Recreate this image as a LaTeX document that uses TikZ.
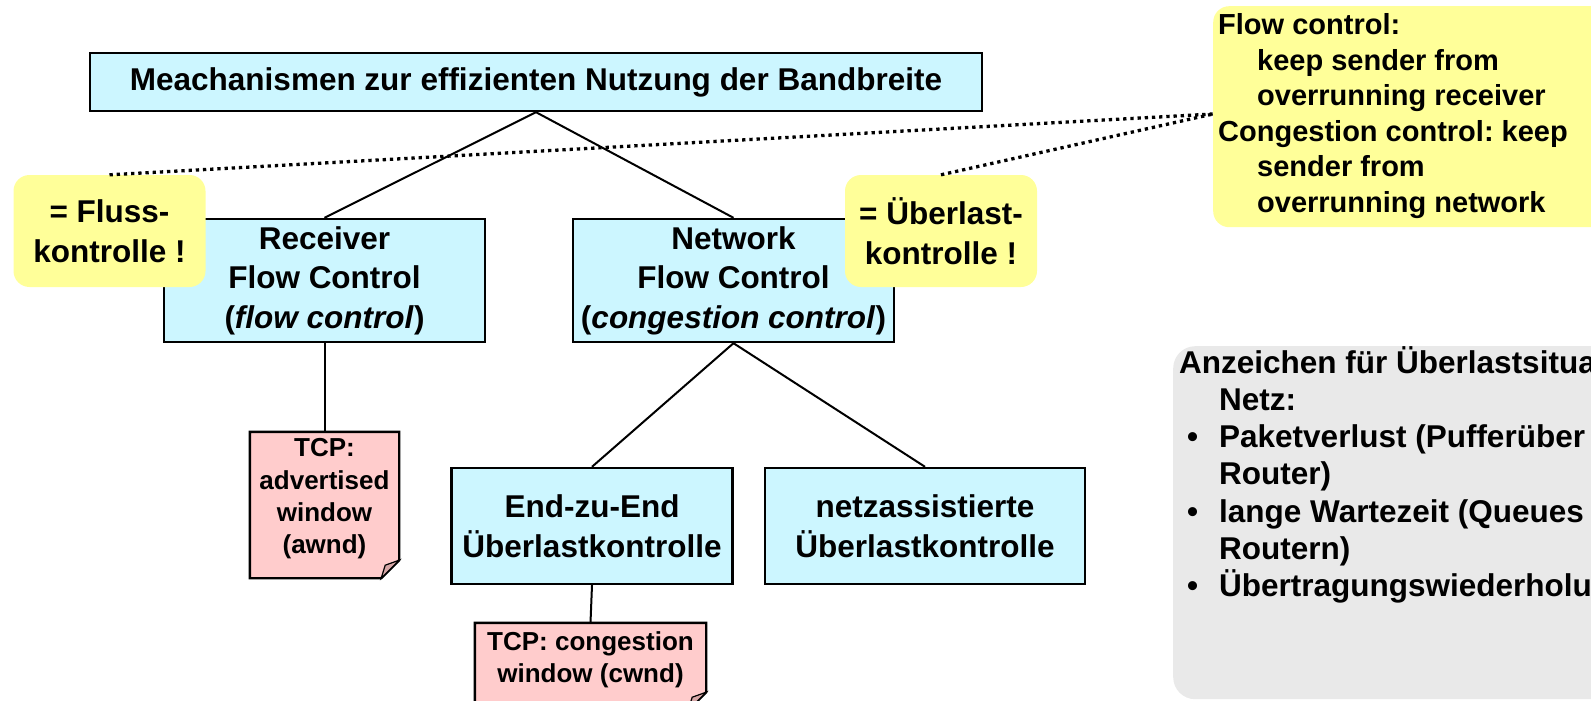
\documentclass[tikz,border=0pt]{standalone}
\usepackage{fontspec}
\setmainfont{Liberation Sans}
\usetikzlibrary{calc}
\frenchspacing
\definecolor{boxcyan}{RGB}{204,246,255}
\definecolor{hintyellow}{RGB}{255,255,153}
\definecolor{notepink}{RGB}{255,204,204}
\definecolor{notefold}{RGB}{214,166,166}
\definecolor{panelgrey}{RGB}{233,233,233}
\newcommand\fsMain{\fontsize{31.5}{39.5}\selectfont\bfseries}
\newcommand\fsDef{\fontsize{29}{35.4}\selectfont\bfseries}
\newcommand\fsNote{\fontsize{26}{32.3}\selectfont\bfseries}
% sticky note outline with a folded bottom-right corner, drawn round an empty node
\newcommand\dogear[1]{%
  \filldraw[fill=notepink, draw=black, line width=2.4pt, line join=miter]
    (#1.north west) -- (#1.north east) -- ($(#1.south east)+(0,-18)$)
    -- ($(#1.south east)+(-18,0)$) -- (#1.south west) -- cycle;
  \filldraw[fill=notefold, draw=black, line width=1.2pt]
    ($(#1.south east)+(0,-18)$) -- ($(#1.south east)+(-18,0)$)
    -- ($(#1.south east)+(-14,-13)$) -- cycle;}
\begin{document}
\begin{tikzpicture}[x=1pt,y=-1pt,
  box/.style={rectangle, draw=black, line width=2.4pt, fill=boxcyan, inner sep=0pt, align=center, font=\fsMain},
  hint/.style={rectangle, rounded corners=16pt, fill=hintyellow, inner sep=0pt, align=center, font=\fsMain},
  note/.style={rectangle, inner sep=0pt},
  notetext/.style={align=center, font=\fsNote, inner sep=0pt},
  link/.style={draw=black, line width=2pt},
  dotlink/.style={draw=black, line width=3.3pt, dash pattern=on 3.3pt off 3.9pt},
  deftext/.style={anchor=base west, inner sep=0pt, font=\fsDef},
  signtext/.style={anchor=base west, inner sep=0pt, font=\fsMain},
]
\useasboundingbox (0,0) rectangle (1591,701);
\begin{scope}
\clip (0,0) rectangle (1591,701);

% classification tree
\node[box, minimum width=892pt, minimum height=58pt] (mech) at (536,82)
  {Meachanismen zur effizienten Nutzung der Bandbreite};
\node[box, minimum width=321pt, minimum height=123pt] (recv) at (324.5,280.5)
  {Receiver\\Flow Control\\(\textit{flow control})};
\node[box, minimum width=321pt, minimum height=123pt] (net) at (733.5,280.5)
  {Network\\Flow Control\\(\textit{congestion control})};
\node[box, minimum width=281pt, minimum height=116pt] (e2e) at (592,526)
  {End-zu-End\\Überlastkontrolle};
\node[box, minimum width=320pt, minimum height=116pt] (assist) at (925,526)
  {netzassistierte\\Überlastkontrolle};

% TCP notes
\node[note, minimum width=149pt, minimum height=146pt] (awnd) at (324.5,505) {};
\dogear{awnd}
\node[notetext] (awndtxt) at ($(awnd.center)+(0,-6)$) {TCP:\\advertised\\window\\(awnd)};
\node[note, minimum width=231pt, minimum height=87pt] (cwnd) at (590.5,666.5) {};
\dogear{cwnd}
\node[notetext] (cwndtxt) at ($(cwnd.center)+(0,-7)$) {TCP: congestion\\window (cwnd)};

% yellow remarks
\node[hint, minimum width=192pt, minimum height=112pt] (fluss) at (109.5,231) {= Fluss-\\kontrolle !};
\node[hint, minimum width=192pt, minimum height=112pt] (ueber) at (941,231) {= Überlast-\\kontrolle !};

% definitions panel
\node[hint, anchor=north west, minimum width=420pt, minimum height=221pt] (flowdef) at (1213,6) {};
\node[deftext] (fd1) at (1218,35) {Flow control:};
\node[deftext] (fd2) at (1257,70.4) {keep sender from};
\node[deftext] (fd3) at (1257,105.8) {overrunning receiver};
\node[deftext] (fd4) at (1218,141.2) {Congestion control: keep};
\node[deftext] (fd5) at (1257,176.6) {sender from};
\node[deftext] (fd6) at (1257,212) {overrunning network};

% congestion signs panel
\node[rectangle, rounded corners=22pt, fill=panelgrey, anchor=north west,
  minimum width=460pt, minimum height=353pt, inner sep=0pt] (signs) at (1173,346) {};
\node[signtext] (sg1) at (1179,373) {Anzeichen für Überlastsitua};
\node[signtext] (sg2) at (1219,410.3) {Netz:};
\node[signtext] (sg3) at (1187,447.6) {\makebox[32pt][l]{•}Paketverlust (Pufferüber};
\node[signtext] (sg4) at (1219,484.9) {Router)};
\node[signtext] (sg5) at (1187,522.2) {\makebox[32pt][l]{•}lange Wartezeit (Queues};
\node[signtext] (sg6) at (1219,559.5) {Routern)};
\node[signtext] (sg7) at (1187,596.8) {\makebox[32pt][l]{•}Übertragungswiederholu};

% tree connectors
\draw[link] (mech.south) -- (recv.north);
\draw[link] (mech.south) -- (net.north);
\draw[link] (recv.south) -- (awnd.north);
\draw[link] (net.south) -- (e2e.north);
\draw[link] (net.south) -- (assist.north);
\draw[link] (e2e.south) -- (cwnd.north);

% dotted references to the definitions
\coordinate (defhook) at ($(flowdef.north west)+(0,108)$);
\draw[dotlink] (fluss.north) -- (defhook);
\draw[dotlink] (ueber.north) -- (defhook);
\end{scope}
\end{tikzpicture}
\end{document}
